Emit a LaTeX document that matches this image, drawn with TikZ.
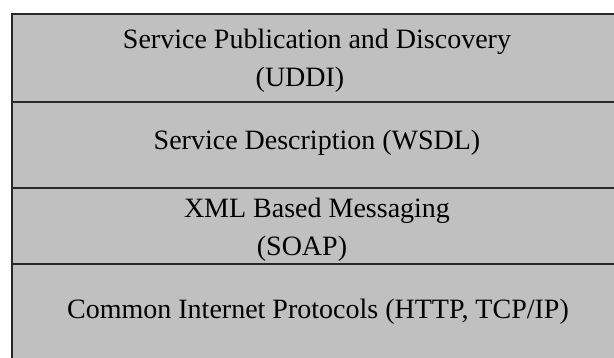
\documentclass[tikz,border=0pt]{standalone}
\usepackage{fontspec}
\setmainfont{Liberation Serif}
\usepackage{tikz}

\definecolor{layergray}{RGB}{192,192,192}
\definecolor{edgegray}{RGB}{40,40,40}

\tikzset{
	layer/.style={shape=rectangle, draw=edgegray, line width=2pt, fill=layergray,
		minimum width=610pt, inner sep=0pt, anchor=north},
	layertext/.style={align=center, inner sep=0pt, font=\fontsize{28}{38}\selectfont}
}

\begin{document}
\begin{tikzpicture}[x=1pt, y=-1pt]
	\useasboundingbox (0,0) rectangle (614,358);

	% protocol stack, top to bottom
	\node[layer, minimum height=88pt]  (uddi) at (317,13)  {};
	\node[layer, minimum height=86pt]  (wsdl) at (317,101) {};
	\node[layer, minimum height=76pt]  (soap) at (317,187) {};
	\node[layer, minimum height=120pt] (http) at (317,263) {};

	\node[layertext] (udditext) at (317,61)  {Service Publication and Discovery\\(UDDI)\hspace*{34pt}};
	\node[layertext] (wsdltext) at (317,143) {Service Description (WSDL)};
	\node[layertext] (soaptext) at (317,230) {XML Based Messaging\\(SOAP)\hspace*{30pt}};
	\node[layertext] (httptext) at (318,312) {Common Internet Protocols (HTTP, TCP/IP)};

\end{tikzpicture}
\end{document}
